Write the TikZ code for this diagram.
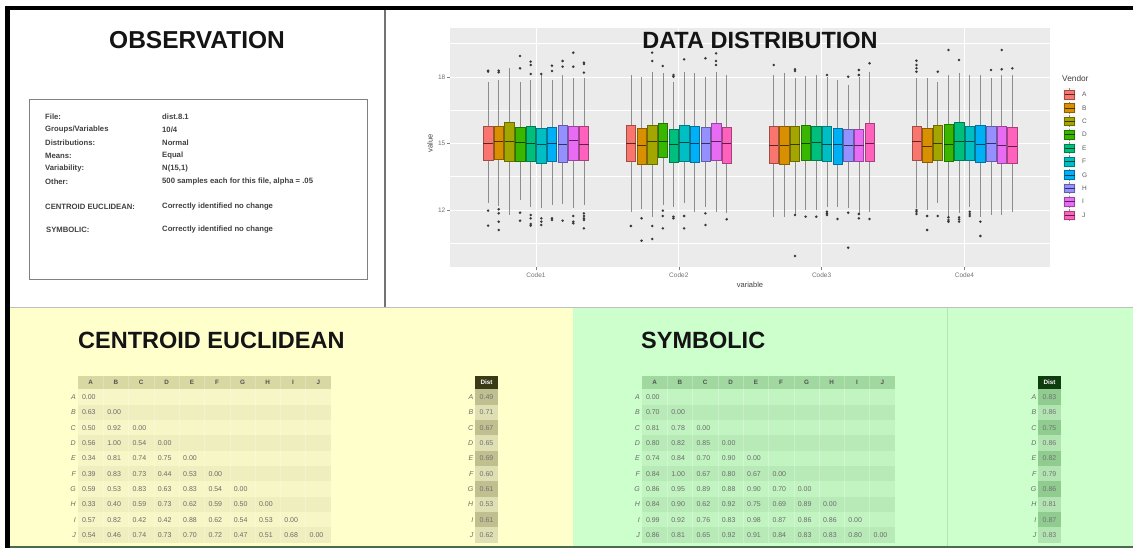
\documentclass[tikz,border=0pt]{standalone}
\usepackage{fontspec}
\setmainfont{Liberation Sans}
\definecolor{c0}{HTML}{F8766D}
\definecolor{c1}{HTML}{D89000}
\definecolor{c2}{HTML}{A3A500}
\definecolor{c3}{HTML}{39B600}
\definecolor{c4}{HTML}{00BF7D}
\definecolor{c5}{HTML}{00BFC4}
\definecolor{c6}{HTML}{00B0F6}
\definecolor{c7}{HTML}{9590FF}
\definecolor{c8}{HTML}{E76BF3}
\definecolor{c9}{HTML}{FF62BC}
\definecolor{ybg}{HTML}{FFFFCC}
\definecolor{gbg}{HTML}{CCFFCC}
\definecolor{yhead}{HTML}{D8D8A2}
\definecolor{yband1}{HTML}{EEEEBE}
\definecolor{yband2}{HTML}{F6F6C6}
\definecolor{ydhead}{HTML}{3A3A16}
\definecolor{yddark}{HTML}{BFBF90}
\definecolor{ydlight}{HTML}{DFDFB4}
\definecolor{ghead}{HTML}{A0D8A0}
\definecolor{gband1}{HTML}{B8EAB8}
\definecolor{gband2}{HTML}{C2F4C2}
\definecolor{gdhead}{HTML}{0E3C0E}
\definecolor{gddark}{HTML}{90CC90}
\definecolor{gdlight}{HTML}{B2E4B2}
\definecolor{panel}{HTML}{EBEBEB}
\newcommand\dmatrix[6]{%
  \fill[#3] (#1,375.5) rectangle ({#1+253},388.5);
  \foreach \r in {0,...,9}{%
    \pgfmathsetmacro\yc{397+\r*15.33}
    \ifodd\r \fill[#4] (#1,\yc-7.66) rectangle ({#1+253},\yc+7.66);
    \else \fill[#5] (#1,\yc-7.66) rectangle ({#1+253},\yc+7.66);\fi
  }
  \foreach \c in {1,...,9}{\draw[white,opacity=0.25,line width=0.6pt] ({#1+\c*25.3},375.5) -- ({#1+\c*25.3},542.7);}
  \foreach \h [count=\c from 0] in {A,B,C,D,E,F,G,H,I,J}{%
    \node[hdr] (#2-h\c) at ({#1+12.65+\c*25.3},382) {\h};}
  \foreach \L/\vals [count=\r from 0] in {#6}{%
    \node[rlab] (#2-l\r) at ({#1-2},{397+\r*15.33}) {\L};
    \foreach \v [count=\c from 0] in \vals {%
      \node[val] (#2-\r-\c) at ({#1+3.8+\c*25.3},{397+\r*15.33}) {\v};}
  }
}
\newcommand\dcol[6]{%
  \fill[#3] (#1,375.5) rectangle ({#1+23},388.5);
  \node[hdr,text=white] (#2-dh) at ({#1+11.5},382) {Dist};
  \foreach \L/\v [count=\r from 0] in {#6}{%
    \pgfmathsetmacro\yc{397+\r*15.33}
    \ifodd\r \fill[#5] (#1,\yc-7.66) rectangle ({#1+23},\yc+7.66);
    \else \fill[#4] (#1,\yc-7.66) rectangle ({#1+23},\yc+7.66);\fi
    \node[rlab] (#2-dl\r) at ({#1-1.5},\yc) {\L};
    \node[val,anchor=center,text=black!55] (#2-dv\r) at ({#1+11.5},\yc) {\v};
  }
}
\begin{document}
\begin{tikzpicture}[x=1pt,y=-1pt,
  title/.style={font=\fontsize{23.5}{28}\selectfont\bfseries,text=black!92,inner sep=0},
  obs/.style={font=\fontsize{7.7}{9}\selectfont\bfseries,text=black!75,anchor=west,inner sep=0},
  tick/.style={font=\fontsize{6.5}{7}\selectfont,text=black!55,inner sep=0},
  hdr/.style={font=\fontsize{6.3}{7}\selectfont\bfseries,text=black!68,inner sep=0},
  val/.style={font=\fontsize{7}{8}\selectfont,text=black!58,anchor=west,inner sep=0},
  rlab/.style={font=\fontsize{7}{8}\selectfont\itshape,text=black!58,anchor=east,inner sep=0},
  whisk/.style={draw=black!45,line width=0.6pt},
  dot/.style={fill=black!78},
]
\useasboundingbox (0,0) rectangle (1133,548);
\fill[white] (0,0) rectangle (1133,548);
% lower backgrounds
\fill[ybg] (10,307) rectangle (573,546);
\fill[gbg] (573,307) rectangle (1133,546);
\draw[gband1!90!black!60!gbg,line width=0.8pt] (947,307) -- (947,546);
\draw[black!25,line width=0.7pt] (10,307) -- (1133,307);
\fill[black!70!green!40!gray] (5,546) rectangle (1133,548);
% frame
\fill[black] (5,6) rectangle (1133,10.5);
\fill[black] (5,6) rectangle (10,548);
\draw[black!55,line width=1.2pt] (385,10.5) -- (385,307);

% ---------- OBSERVATION ----------
\node[title,font=\fontsize{24.5}{28}\selectfont\bfseries] (obstitle) at (197,40) {OBSERVATION};
\draw[black!50,line width=0.8pt] (29,99) rectangle (367,279);
\node[obs] (l1) at (45,117) {File:};
\node[obs] (v1) at (162,117) {dist.8.1};
\node[obs] (l2) at (45,130) {Groups/Variables};
\node[obs] (v2) at (162,130) {10/4};
\node[obs] (l3) at (45,143) {Distributions:};
\node[obs] (v3) at (162,143) {Normal};
\node[obs] (l4) at (45,155.5) {Means:};
\node[obs] (v4) at (162,155.5) {Equal};
\node[obs] (l5) at (45,168.3) {Variability:};
\node[obs] (v5) at (162,168.3) {N(15,1)};
\node[obs] (l6) at (45,181.5) {Other:};
\node[obs] (v6) at (162,181.5) {500 samples each for this file, alpha = .05};
\node[obs] (l7) at (45,206.5) {CENTROID EUCLIDEAN:};
\node[obs] (v7) at (162,206.5) {Correctly identified no change};
\node[obs] (l8) at (46,229.5) {SYMBOLIC:};
\node[obs] (v8) at (162,229.5) {Correctly identified no change};

% ---------- DATA DISTRIBUTION ----------
\fill[panel] (450,28) rectangle (1050,267);
\foreach \yy in {43.5,110,176.5,243}{\draw[white,line width=0.45pt] (450,\yy) -- (1050,\yy);}
\foreach \yy in {77,143.3,210}{\draw[white,line width=0.9pt] (450,\yy) -- (1050,\yy);}
\foreach \g in {1,2,3,4}{%
  \pgfmathsetmacro\gx{536+(\g-1)*142.8}
  \draw[white,line width=0.9pt] (\gx,28) -- (\gx,267);
  \draw[black!50,line width=0.5pt] (\gx,267) -- (\gx,270);
  \node[tick] (code\g) at (\gx,275.5) {Code\g};
}
\foreach \yy/\t in {77/18,143.3/15,210/12}{%
  \draw[black!50,line width=0.5pt] (447,\yy) -- (450,\yy);
  \node[tick,anchor=east] (yt\t) at (445.5,\yy) {\t};
}
\node[tick,font=\fontsize{7.5}{8}\selectfont,text=black!75,rotate=90] (ylab) at (430,143.3) {value};
\node[tick,font=\fontsize{7.5}{8}\selectfont,text=black!75] (xlab) at (750,285) {variable};
% boxes
\foreach \g/\i/\t/\m/\b/\wt/\wb in {
1/0/380/430/480/245/610, 1/1/380/425/478/240/618, 1/2/368/425/485/205/645, 1/3/382/428/485/245/600, 1/4/380/430/485/240/620,
1/5/385/433/490/225/625, 1/6/382/430/485/240/615, 1/7/376/432/486/225/612, 1/8/378/420/482/235/625, 1/9/380/432/482/235/615,
2/0/376/430/485/225/635, 2/1/385/437/492/232/628, 2/2/375/425/492/215/650, 2/3/370/425/473/220/615, 2/4/387/432/487/245/620,
2/5/375/428/485/215/610, 2/6/378/430/487/220/635, 2/7/382/430/485/230/620, 2/8/370/423/482/215/635, 2/9/382/430/490/225/640,
3/0/380/435/490/225/650, 3/1/378/435/492/218/652, 3/2/378/433/485/235/645, 3/3/375/430/480/228/630, 3/4/378/427/480/225/630,
3/5/380/432/485/232/620, 3/6/385/432/492/240/620, 3/7/388/435/485/255/625, 3/8/388/435/485/232/640, 3/9/370/430/485/215/635,
4/0/380/423/480/235/625, 4/1/385/438/488/235/630, 4/2/377/430/480/245/610, 4/3/372/432/485/225/650, 4/4/367/425/480/218/640,
4/5/378/425/480/225/620, 4/6/377/432/488/225/650, 4/7/378/430/485/235/645, 4/8/380/437/490/225/645, 4/9/382/438/490/225/635}{%
  \pgfmathsetmacro\xc{536+(\g-1)*142.8+(\i-4.5)*10.65}
  \draw[whisk] (\xc,\wt/3) -- (\xc,\wb/3);
  \draw[fill=c\i,draw=c\i!65!black,line width=0.4pt] (\xc-4.7,\t/3) rectangle (\xc+4.7,\b/3);
  \draw[c\i!35!black,line width=0.9pt] (\xc-4.7,\m/3) -- (\xc+4.7,\m/3);
}
% outliers
\foreach \g/\i/\yy in {
1/0/215,1/0/212,1/0/632,1/0/677,1/1/212,1/1/217,1/1/628,1/1/640,1/1/665,1/1/690,
1/3/168,1/3/205,1/3/638,1/3/662,1/4/185,1/4/195,1/4/222,1/4/645,1/4/655,1/4/672,1/4/677,
1/5/655,1/5/665,1/5/675,1/5/222,1/6/197,1/6/213,1/6/655,1/6/660,1/7/183,1/7/200,1/7/662,
1/8/158,1/8/200,1/8/648,1/8/665,1/8/670,1/9/188,1/9/192,1/9/218,1/9/640,1/9/648,1/9/655,1/9/660,1/9/685,
2/0/678,2/1/655,2/1/722,2/2/158,2/2/183,2/2/678,2/2/717,2/3/198,2/3/632,2/3/648,2/3/685,
2/4/650,2/4/655,2/4/225,2/4/230,2/5/178,2/5/648,2/5/685,2/7/175,2/7/640,2/7/675,
2/8/160,2/8/183,2/8/195,2/9/658,
3/0/195,3/2/208,3/2/213,3/2/645,3/2/768,3/3/650,3/4/650,3/5/225,3/5/635,3/5/640,3/5/645,
3/6/657,3/7/230,3/7/638,3/7/743,3/8/210,3/8/225,3/8/642,3/8/655,3/9/190,3/9/657,
4/0/182,4/0/195,4/0/205,4/0/215,4/0/630,4/0/635,4/0/642,4/1/648,4/1/690,4/2/215,4/2/648,
4/3/150,4/3/652,4/3/660,4/3/665,4/4/180,4/4/652,4/4/658,4/4/665,4/5/635,4/5/642,4/5/648,
4/6/665,4/6/708,4/7/210,4/8/150,4/8/208,4/9/205}{%
  \pgfmathsetmacro\xc{536+(\g-1)*142.8+(\i-4.5)*10.65}
  \fill[dot] (\xc,\yy/3) circle[radius=1.4pt];
}
% legend
\node[tick,font=\fontsize{8.3}{9}\selectfont,text=black!75,anchor=west] (legtitle) at (1062,79) {Vendor};
\foreach \L [count=\i from 0] in {A,B,C,D,E,F,G,H,I,J}{%
  \pgfmathsetmacro\ky{94.5+\i*13.4}
  \fill[black!4] (1063,\ky-6.2) rectangle (1076,\ky+6.2);
  \draw[whisk] (1069.5,\ky-6) -- (1069.5,\ky+6);
  \draw[fill=c\i,draw=c\i!65!black,line width=0.4pt] (1064.5,\ky-4.3) rectangle (1074.5,\ky+4.3);
  \draw[c\i!35!black,line width=0.7pt] (1064.5,\ky) -- (1074.5,\ky);
  \node[tick,anchor=west,text=black!65] (leg\L) at (1082,\ky) {\L};
}
\node[title] (ddtitle) at (760,40) {DATA DISTRIBUTION};

% ---------- CENTROID EUCLIDEAN ----------
\node[title,anchor=west] (cetitle) at (78,340) {CENTROID EUCLIDEAN};
\dmatrix{78}{ce}{yhead}{yband1}{yband2}{A/{0.00}, B/{0.63,0.00}, C/{0.50,0.92,0.00}, D/{0.56,1.00,0.54,0.00},
 E/{0.34,0.81,0.74,0.75,0.00}, F/{0.39,0.83,0.73,0.44,0.53,0.00}, G/{0.59,0.53,0.83,0.63,0.83,0.54,0.00},
 H/{0.33,0.40,0.59,0.73,0.62,0.59,0.50,0.00}, I/{0.57,0.82,0.42,0.42,0.88,0.62,0.54,0.53,0.00},
 J/{0.54,0.46,0.74,0.73,0.70,0.72,0.47,0.51,0.68,0.00}}
\dcol{475}{ced}{ydhead}{yddark}{ydlight}{A/0.49,B/0.71,C/0.67,D/0.65,E/0.69,F/0.60,G/0.61,H/0.53,I/0.61,J/0.62}

% ---------- SYMBOLIC ----------
\node[title,anchor=west] (symtitle) at (641,340) {SYMBOLIC};
\dmatrix{642}{sy}{ghead}{gband1}{gband2}{A/{0.00}, B/{0.70,0.00}, C/{0.81,0.78,0.00}, D/{0.80,0.82,0.85,0.00},
 E/{0.74,0.84,0.70,0.90,0.00}, F/{0.84,1.00,0.67,0.80,0.67,0.00}, G/{0.86,0.95,0.89,0.88,0.90,0.70,0.00},
 H/{0.84,0.90,0.62,0.92,0.75,0.69,0.89,0.00}, I/{0.99,0.92,0.76,0.83,0.98,0.87,0.86,0.86,0.00},
 J/{0.86,0.81,0.65,0.92,0.91,0.84,0.83,0.83,0.80,0.00}}
\dcol{1038}{syd}{gdhead}{gddark}{gdlight}{A/0.83,B/0.86,C/0.75,D/0.86,E/0.82,F/0.79,G/0.86,H/0.81,I/0.87,J/0.83}
\end{tikzpicture}
\end{document}
